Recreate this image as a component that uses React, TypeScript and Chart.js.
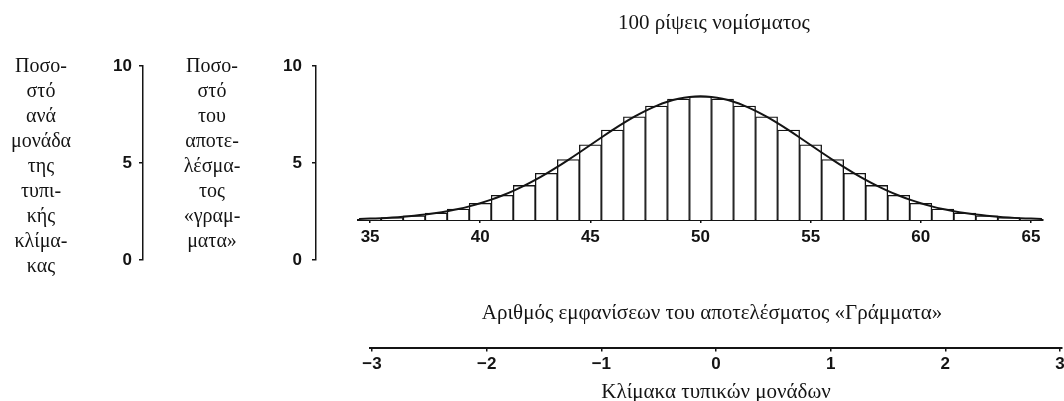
import React, { useEffect, useRef } from 'react';
import { Chart, registerables } from 'chart.js';

Chart.register(...registerables);

// ---------- data ----------
const heads = [35, 36, 37, 38, 39, 40, 41, 42, 43, 44, 45, 46, 47, 48, 49, 50, 51, 52, 53, 54, 55, 56, 57, 58, 59, 60, 61, 62, 63, 64, 65];
const percentOfHeads = [0.09, 0.16, 0.27, 0.45, 0.71, 1.08, 1.59, 2.23, 3.01, 3.90, 4.85, 5.80, 6.66, 7.35, 7.80, 7.96, 7.80, 7.35, 6.66, 5.80, 4.85, 3.90, 3.01, 2.23, 1.59, 1.08, 0.71, 0.45, 0.27, 0.16, 0.09];

const curveX = [34.5, 35, 35.5, 36, 36.5, 37, 37.5, 38, 38.5, 39, 39.5, 40, 40.5, 41, 41.5, 42, 42.5, 43, 43.5, 44, 44.5, 45, 45.5, 46, 46.5, 47, 47.5, 48, 48.5, 49, 49.5, 50, 50.5, 51, 51.5, 52, 52.5, 53, 53.5, 54, 54.5, 55, 55.5, 56, 56.5, 57, 57.5, 58, 58.5, 59, 59.5, 60, 60.5, 61, 61.5, 62, 62.5, 63, 63.5, 64, 64.5, 65, 65.5];
const curveY = [0.065, 0.089, 0.119, 0.158, 0.208, 0.272, 0.351, 0.448, 0.567, 0.709, 0.880, 1.080, 1.312, 1.579, 1.881, 2.218, 2.590, 2.995, 3.427, 3.884, 4.357, 4.839, 5.322, 5.794, 6.245, 6.665, 7.041, 7.366, 7.628, 7.821, 7.939, 7.979, 7.939, 7.821, 7.628, 7.366, 7.041, 6.665, 6.245, 5.794, 5.322, 4.839, 4.357, 3.884, 3.427, 2.995, 2.590, 2.218, 1.881, 1.579, 1.312, 1.080, 0.880, 0.709, 0.567, 0.448, 0.351, 0.272, 0.208, 0.158, 0.119, 0.089, 0.065];

const headTicks = [35, 40, 45, 50, 55, 60, 65];
const percentTicks = [0, 5, 10];
const standardTicks = [-3, -2, -1, 0, 1, 2, 3];

const chartTitle = '100 ρίψεις νομίσματος';
const headsTitle = 'Αριθμός εμφανίσεων του αποτελέσματος «Γράμματα»';
const standardTitle = 'Κλίμακα τυπικών μονάδων';
const outerAxisLabel = ['Ποσο-', 'στό', 'ανά', 'μονάδα', 'της', 'τυπι-', 'κής', 'κλίμα-', 'κας'];
const innerAxisLabel = ['Ποσο-', 'στό', 'του', 'αποτε-', 'λέσμα-', 'τος', '«γραμ-', 'ματα»'];

// ---------- styles ----------
const INK = '#141414';
const SANS = '"Liberation Sans", Arial, Helvetica, sans-serif';
const SERIF = '"Liberation Serif", "Times New Roman", serif';
const tickFont = { family: SANS, size: 17, weight: 'bold' as const };
const serifFont = { family: SERIF, size: 21, weight: 'normal' as const };

const setTicks = (values: number[]) => (scale: any) => {
  scale.ticks = values.map((v) => ({ value: v }));
};

const signed = (v: number) => (v < 0 ? '\u2212' + Math.abs(v) : String(v));

const stackedLabels = {
  id: 'stackedLabels',
  afterDraw(chart: any) {
    const ctx = chart.ctx;
    const outer = chart.scales.yOuter;
    const inner = chart.scales.yInner;
    const top = outer.getPixelForValue(10);
    ctx.save();
    ctx.font = `20px ${SERIF}`;
    ctx.fillStyle = INK;
    ctx.textAlign = 'center';
    ctx.textBaseline = 'middle';
    outerAxisLabel.forEach((t, i) => ctx.fillText(t, outer.left + 41, top + 1 + i * 25));
    innerAxisLabel.forEach((t, i) => ctx.fillText(t, inner.left + 69, top + 1 + i * 25));
    ctx.restore();
  },
};

const yAxis = (weight: number, width: number, pad: number) => ({
  axis: 'y',
  type: 'linear',
  position: 'left',
  weight,
  min: 0,
  max: 10,
  afterBuildTicks: setTicks(percentTicks),
  afterFit: (s: any) => {
    s.width = width;
  },
  grid: { drawOnChartArea: false, drawTicks: true, tickLength: 4, color: INK, lineWidth: 1.5 },
  border: { display: true, color: INK, width: 1.5 },
  ticks: { font: tickFont, color: INK, padding: pad },
});

export default function App() {
  const leftRef = useRef<HTMLCanvasElement>(null);
  const mainRef = useRef<HTMLCanvasElement>(null);
  const stdRef = useRef<HTMLCanvasElement>(null);

  useEffect(() => {
    const left = new Chart(leftRef.current as HTMLCanvasElement, {
      type: 'scatter',
      data: { datasets: [] },
      options: {
        responsive: false,
        animation: false,
        layout: { padding: { top: 66, bottom: 40, left: 0, right: 20 } },
        plugins: { legend: { display: false }, tooltip: { enabled: false } },
        scales: {
          x: { type: 'linear', display: false, min: 0, max: 1 },
          yOuter: yAxis(1, 143, 7),
          yInner: yAxis(0, 173, 10),
        } as any,
      },
      plugins: [stackedLabels],
    } as any);

    const main = new Chart(mainRef.current as HTMLCanvasElement, {
      type: 'bar',
      data: {
        datasets: [
          {
            type: 'line',
            label: 'Κανονική καμπύλη',
            data: curveX.map((x, i) => ({ x, y: curveY[i] })),
            borderColor: INK,
            borderWidth: 2,
            pointRadius: 0,
            tension: 0.4,
            fill: false,
            order: 0,
          },
          {
            type: 'bar',
            label: 'Ιστόγραμμα',
            data: heads.map((x, i) => ({ x, y: percentOfHeads[i] })),
            backgroundColor: '#ffffff',
            borderColor: INK,
            borderWidth: 1.3,
            barPercentage: 1,
            categoryPercentage: 1,
            order: 1,
          },
        ],
      },
      options: {
        responsive: false,
        animation: false,
        layout: { padding: { top: 0, left: 0, right: 0, bottom: 78.6 } },
        plugins: {
          legend: { display: false },
          tooltip: { enabled: false },
          title: {
            display: true,
            text: chartTitle,
            font: serifFont,
            color: INK,
            fullSize: true,
            padding: { top: 10.7, bottom: 29.1 },
          },
        },
        scales: {
          x: {
            type: 'linear',
            min: 34.45,
            max: 65.55,
            offset: false,
            afterBuildTicks: setTicks(headTicks),
            afterFit: (s: any) => {
              s.paddingLeft = 18;
              s.paddingRight = 45;
            },
            grid: { offset: false, drawOnChartArea: false, drawTicks: true, tickLength: 3, color: INK, lineWidth: 1.5 },
            border: { display: true, color: INK, width: 2 },
            ticks: { font: tickFont, color: INK, padding: 4, maxRotation: 0, autoSkip: false },
          },
          y: { type: 'linear', display: false, min: 0, max: 10 },
        } as any,
      },
    } as any);

    const std = new Chart(stdRef.current as HTMLCanvasElement, {
      type: 'scatter',
      data: { datasets: [] },
      options: {
        responsive: false,
        animation: false,
        layout: { padding: 0 },
        plugins: {
          legend: { display: false },
          tooltip: { enabled: false },
          title: {
            display: true,
            text: headsTitle,
            font: serifFont,
            color: INK,
            fullSize: true,
            padding: { top: 10.4, bottom: 10 },
          },
        },
        scales: {
          x: {
            type: 'linear',
            position: 'bottom',
            min: -3.0174,
            max: 3.0174,
            afterBuildTicks: setTicks(standardTicks),
            afterFit: (s: any) => {
              s.paddingLeft = 30;
              s.paddingRight = 22;
            },
            grid: { drawOnChartArea: false, drawTicks: true, tickLength: 4, color: INK, lineWidth: 1.5 },
            border: { display: true, color: INK, width: 2 },
            ticks: { font: tickFont, color: INK, padding: 3, maxRotation: 0, autoSkip: false, callback: (v: any) => signed(Number(v)) },
            title: { display: true, text: standardTitle, font: serifFont, color: INK, padding: { top: 3.7, bottom: 0 } },
          },
          y: { type: 'linear', display: false, min: 0, max: 1 },
        } as any,
      },
    } as any);

    return () => {
      left.destroy();
      main.destroy();
      std.destroy();
    };
  }, []);

  return (
    <div style={{ position: 'absolute', left: 0, top: 0, width: 1064, height: 401, overflow: 'hidden', background: '#ffffff' }}>
      <canvas ref={leftRef} width={340} height={300} style={{ position: 'absolute', left: 0, top: 0, width: 340, height: 300 }} />
      <canvas ref={mainRef} width={748} height={330} style={{ position: 'absolute', left: 340, top: 0, width: 748, height: 330 }} />
      <canvas ref={stdRef} width={744} height={115} style={{ position: 'absolute', left: 340, top: 290, width: 744, height: 115 }} />
    </div>
  );
}
